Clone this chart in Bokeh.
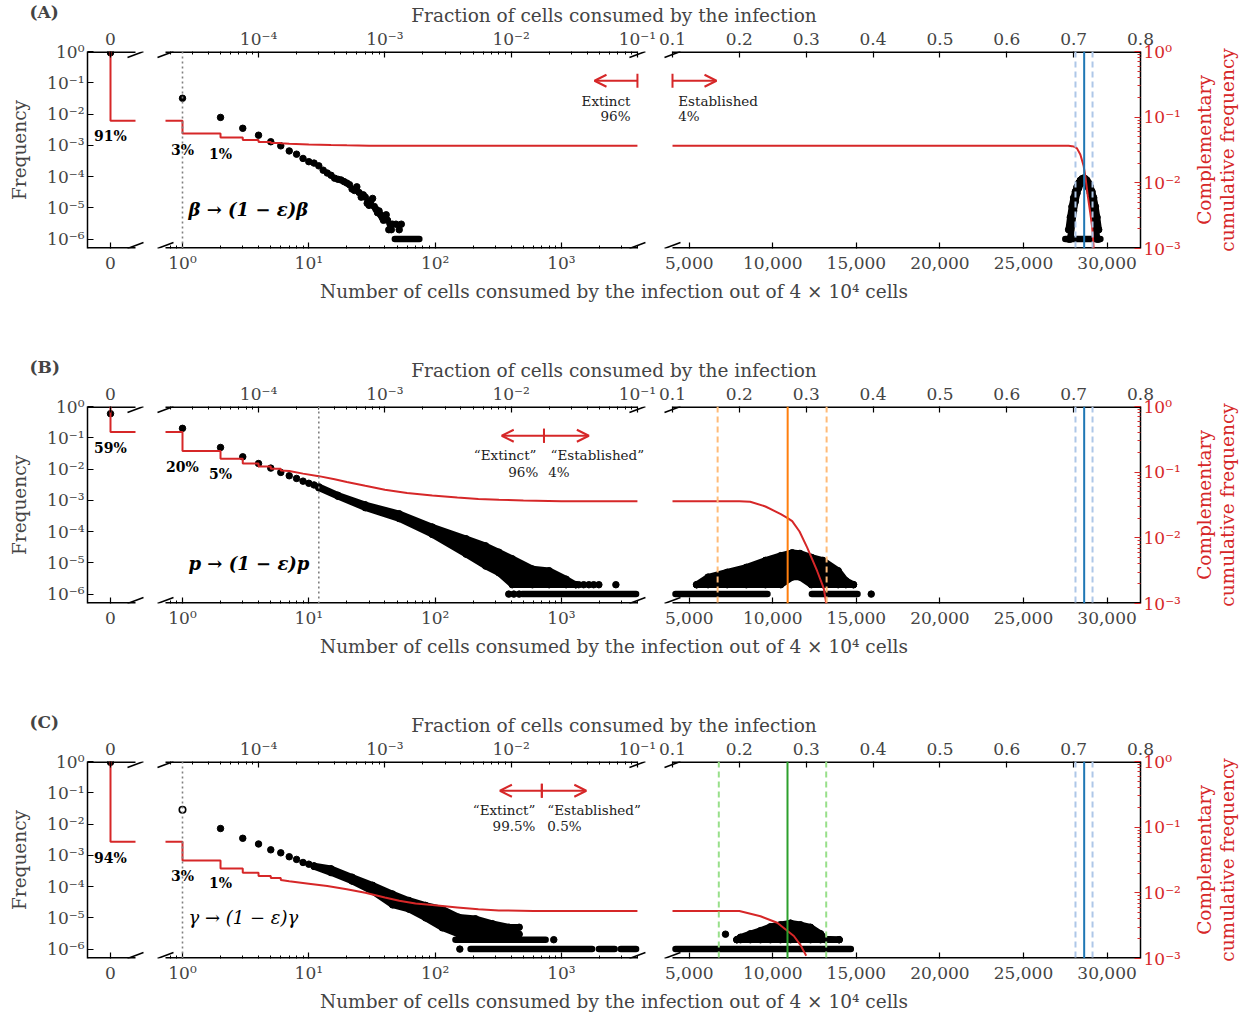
import math
from bokeh.plotting import figure
from bokeh.models import (Range1d, LogScale, LinearAxis, LogAxis, FixedTicker, Title,
                          CustomJSTickFormatter, Span, Label, Arrow, TeeHead, OpenHead)
from bokeh.layouts import column, row
from bokeh.embed import file_html
from bokeh.resources import INLINE

TOTAL_CELLS = 40000
FONT = "DejaVu Serif"
RED = "#d62728"

# ---------------- tick labels ----------------
X_LOG_TICKS = [1, 10, 100, 1000]
X_LOG_LABELS = ["10⁰", "10¹", "10²", "10³"]
X_LIN_TICKS = [5000, 10000, 15000, 20000, 25000, 30000]
X_LIN_LABELS = ["5,000", "10,000", "15,000", "20,000", "25,000", "30,000"]
FRAC_LOG_TICKS = [1e-4, 1e-3, 1e-2, 1e-1]
FRAC_LOG_LABELS = ["10⁻⁴", "10⁻³", "10⁻²", "10⁻¹"]
FRAC_LIN_TICKS = [0.1, 0.2, 0.3, 0.4, 0.5, 0.6, 0.7, 0.8]
FRAC_LIN_LABELS = ["0.1", "0.2", "0.3", "0.4", "0.5", "0.6", "0.7", "0.8"]
FREQ_TICKS = [1, 1e-1, 1e-2, 1e-3, 1e-4, 1e-5, 1e-6]
FREQ_LABELS = ["10⁰", "10⁻¹", "10⁻²", "10⁻³", "10⁻⁴", "10⁻⁵", "10⁻⁶"]
CCDF_TICKS = [1, 1e-1, 1e-2, 1e-3]
CCDF_LABELS = ["10⁰", "10⁻¹", "10⁻²", "10⁻³"]

# ---------------- Row A : beta -> (1 - eps) beta ----------------
A_zero_freq = 0.91
A_zero_ccdf = 0.088
A_log_x = [1, 2, 3, 4, 5, 6, 7, 8, 9, 10, 11, 12, 13, 14, 15, 16, 17, 18, 19, 20,
           21, 22, 23, 24, 25, 26, 27, 28, 29, 30, 31, 32, 33, 34, 35, 36, 37, 38,
           39, 40, 41, 42, 43, 44, 45, 46, 49, 52, 54]
A_log_y = [0.032, 0.0078, 0.0035, 0.0021, 0.0013, 0.00096, 0.00066, 0.00052, 0.00038,
           0.00030, 0.00027, 0.00022, 0.00016, 0.00013, 0.00011, 8.9e-5, 8.2e-5, 7.8e-5,
           6.9e-5, 6.2e-5, 5.5e-5, 4.0e-5, 3.6e-5, 4.7e-5, 3.1e-5, 2.2e-5, 2.6e-5, 2.2e-5,
           1.4e-5, 1.2e-5, 1.7e-5, 2.0e-5, 1.1e-5, 9e-6, 7e-6, 8e-6, 6e-6, 5e-6, 4e-6,
           5e-6, 6e-6, 4e-6, 2e-6, 3e-6, 2e-6, 3e-6, 3e-6, 2e-6, 3e-6]
A_log_run_x0 = [48]
A_log_run_x1 = [75]
A_log_run_y = [1e-6]
A_lin_band_x = [27700, 27800, 27900, 28000, 28100, 28200, 28300, 28400, 28500, 28600,
                28700, 28800, 28900, 29000, 29100, 29200, 29300, 29400, 29500]
A_lin_band_lo = [1e-6, 1e-6, 3e-6, 8e-6, 1.6e-5, 2.9e-5, 4.3e-5, 5.7e-5, 6.7e-5, 7.1e-5,
                 6.7e-5, 5.7e-5, 4.3e-5, 2.9e-5, 1.6e-5, 8e-6, 3e-6, 1e-6, 1e-6]
A_lin_band_hi = [2e-6, 5e-6, 1.1e-5, 2.1e-5, 3.3e-5, 4.7e-5, 6.2e-5, 7.6e-5, 8.5e-5, 9e-5,
                 8.5e-5, 7.6e-5, 6.2e-5, 4.7e-5, 3.3e-5, 2.1e-5, 1.1e-5, 5e-6, 2e-6]
A_lin_run_x0 = [27500]
A_lin_run_x1 = [29600]
A_lin_run_y = [1e-6]
A_ccdf_steps = [0.088, 0.0565, 0.049, 0.045, 0.042, 0.0405, 0.040]
A_ccdf_tail_x = [7, 10, 15, 20, 30, 50, 100, 4000]
A_ccdf_tail_y = [0.0395, 0.0385, 0.0377, 0.0372, 0.0368, 0.0366, 0.0366, 0.0366]
A_ccdf_lin_x = [4000, 27700, 27900, 28050, 28200, 28400, 28600, 28710, 28850, 29000, 29110, 29200]
A_ccdf_lin_y = [0.0366, 0.0366, 0.0362, 0.0355, 0.0335, 0.027, 0.018, 0.012, 0.0062, 0.0034, 0.0021, 0.001]
A_threshold = 1

# ---------------- Row B : p -> (1 - eps) p ----------------
B_zero_freq = 0.59
B_zero_ccdf = 0.41
B_log_x = [1, 2, 3, 4, 5, 6, 7, 8, 9, 10, 11, 383, 420, 463, 1370, 1500, 1650, 1800, 1980, 2700]
B_log_y = [0.20, 0.049, 0.0246, 0.015, 0.0107, 0.0078, 0.0061, 0.005, 0.0041, 0.0035, 0.0031,
           1e-6, 1e-6, 1e-6, 2e-6, 2e-6, 2e-6, 2e-6, 2e-6, 2e-6]
B_log_band_x = [12, 17, 28, 52, 95, 176, 251, 320, 408, 590, 800, 1090, 1300]
B_log_band_lo = [2.5e-3, 1.35e-3, 5.8e-4, 2.6e-4, 8.1e-5, 1.9e-5, 7.9e-6, 4.8e-6, 2e-6, 2e-6, 2e-6, 2e-6, 2e-6]
B_log_band_hi = [2.7e-3, 1.45e-3, 7.2e-4, 3.7e-4, 1.4e-4, 5.9e-5, 3.5e-5, 2.2e-5, 1.35e-5, 6.4e-6, 5.6e-6, 3e-6, 2e-6]
B_log_run_x0 = [490]
B_log_run_x1 = [3900]
B_log_run_y = [1e-6]
B_lin_x = [15890]
B_lin_y = [1e-6]
B_lin_band_x = [5442, 6129, 7274, 8419, 9563, 10479, 11166, 11624, 12311, 12998, 13914, 14371, 14829]
B_lin_band_lo = [2e-6, 2e-6, 2e-6, 2e-6, 2e-6, 2e-6, 3.5e-6, 3.5e-6, 2e-6, 2e-6, 2e-6, 2e-6, 2e-6]
B_lin_band_hi = [2e-6, 3.5e-6, 5e-6, 7.2e-6, 1.2e-5, 1.7e-5, 2.1e-5, 2e-5, 1.5e-5, 1.2e-5, 5.6e-6, 2.7e-6, 2e-6]
B_lin_run_x0 = [4180, 12340]
B_lin_run_x1 = [9680, 15070]
B_lin_run_y = [1e-6, 1e-6]
B_ccdf_steps = [0.41, 0.21, 0.16, 0.136, 0.122, 0.113, 0.106]
B_ccdf_tail_x = [7, 9, 12, 16, 20, 28, 40, 60, 95, 150, 220, 320, 500, 1000, 4000]
B_ccdf_tail_y = [0.104, 0.095, 0.087, 0.078, 0.071, 0.062, 0.054, 0.048, 0.044, 0.041, 0.039, 0.038, 0.037, 0.0362, 0.036]
B_ccdf_lin_x = [4000, 8000, 8650, 9560, 10480, 10890, 11160, 11600, 12060, 12660, 13050, 13200]
B_ccdf_lin_y = [0.036, 0.036, 0.0355, 0.030, 0.023, 0.020, 0.018, 0.0125, 0.0071, 0.0031, 0.0017, 0.001]
B_threshold = 12

# ---------------- Row C : gamma -> (1 - eps) gamma ----------------
C_zero_freq = 0.94
C_zero_ccdf = 0.06
C_log_x = [2, 3, 4, 5, 6, 7, 8, 9, 10, 157, 870]
C_log_y = [0.0072, 0.0035, 0.0023, 0.0015, 0.0012, 0.0009, 0.00074, 0.00059, 0.00052, 1e-6, 2e-6]
C_log_hollow_x = [1]
C_log_hollow_y = [0.0285]
C_log_band_x = [11, 15, 22, 32, 46, 62, 84, 114, 154, 209, 284, 385, 463]
C_log_band_lo = [4.4e-4, 2.8e-4, 1.5e-4, 7.1e-5, 2.6e-5, 1.9e-5, 1.0e-5, 4.8e-6, 3e-6, 2.6e-6, 2.6e-6, 2.5e-6, 3e-6]
C_log_band_hi = [4.6e-4, 3.7e-4, 2.0e-4, 1.1e-4, 5.8e-5, 3.6e-5, 2.5e-5, 1.9e-5, 1.05e-5, 9.3e-6, 6.5e-6, 5e-6, 5e-6]
C_log_run_x0 = [145, 191, 1980, 2950]
C_log_run_x1 = [750, 1750, 2640, 3900]
C_log_run_y = [2e-6, 1e-6, 1e-6, 1e-6]
C_lin_x = [7170]
C_lin_y = [3e-6]
C_lin_band_x = [7850, 8070, 8660, 9265, 9860, 10460, 11060, 11660, 12260, 12860, 13150, 13970]
C_lin_band_lo = [2e-6, 2e-6, 2e-6, 2e-6, 2e-6, 2e-6, 2e-6, 2e-6, 2e-6, 2e-6, 2e-6, 2e-6]
C_lin_band_hi = [2e-6, 2.4e-6, 3.1e-6, 3.9e-6, 5.2e-6, 6e-6, 6.8e-6, 6e-6, 5e-6, 3.1e-6, 2.1e-6, 2e-6]
C_lin_run_x0 = [4180]
C_lin_run_x1 = [14670]
C_lin_run_y = [1e-6]
C_ccdf_steps = [0.06, 0.031, 0.0235, 0.0203, 0.018, 0.0168, 0.0157]
C_ccdf_tail_x = [7, 10, 14, 20, 28, 40, 52, 70, 95, 150, 220, 320, 600, 1500, 4000]
C_ccdf_tail_y = [0.0150, 0.0138, 0.0127, 0.0113, 0.0100, 0.0085, 0.0076, 0.0069, 0.0065, 0.0060, 0.0056, 0.0054, 0.0053, 0.0053, 0.0053]
C_ccdf_lin_x = [4000, 8000, 9265, 10265, 11260, 11660, 12000]
C_ccdf_lin_y = [0.0053, 0.0053, 0.0044, 0.0035, 0.0022, 0.0016, 0.0011]
C_threshold = 1

# ---------------- reference lines (cells) ----------------
BLUE_MEAN = 28630
BLUE_CI = [28110, 29130]
ORANGE_MEAN = 10890
ORANGE_CI = [6700, 13220]
GREEN_MEAN = 10880
GREEN_CI = [6770, 13196]

RIGHT_LABEL_LINES = ["Complementary", "cumulative frequency"]

# ---------------- geometry of the broken axis (pixels in the frame) ----------------
FRAME_W = 1053
FRAME_H = 197
ZERO_AT_PX, ZERO_PX_PER_UNIT, ZERO_END_PX = 23.0, 24.0, 48.0
LOG_ONE_PX, LOG_PX_PER_DEC, LOG_START_PX = 95.0, 126.3, 78.0
LIN_START_PX, LIN_END_PX = 585.0, 1053.0
LIN_START, LIN_END = 0.1 * TOTAL_CELLS, 0.8 * TOTAL_CELLS
LIN_PX_PER_CELL = (LIN_END_PX - LIN_START_PX) / (LIN_END - LIN_START)

ZERO_RANGE = (-ZERO_AT_PX / ZERO_PX_PER_UNIT, (FRAME_W - ZERO_AT_PX) / ZERO_PX_PER_UNIT)
LOG_RANGE = (10 ** (-LOG_ONE_PX / LOG_PX_PER_DEC), 10 ** ((FRAME_W - LOG_ONE_PX) / LOG_PX_PER_DEC))
LIN_RANGE = (LIN_START - LIN_START_PX / LIN_PX_PER_CELL, LIN_END)
ZERO_LIM = (ZERO_RANGE[0], (ZERO_END_PX - ZERO_AT_PX) / ZERO_PX_PER_UNIT)
LOG_LIM = (10 ** ((LOG_START_PX - LOG_ONE_PX) / LOG_PX_PER_DEC), 0.1 * TOTAL_CELLS)
LIN_LIM = (LIN_START, LIN_END)
FREQ_RANGE = (10 ** -6.3, 1.0)
CCDF_RANGE = (1e-3, 1.0)
FREQ_PX_PER_DEC = FRAME_H / 6.3
DOT = 6.5
LEFT_BORDER, RIGHT_BORDER, TOP_BORDER = 87, 51, 51
MAIN_W = LEFT_BORDER + FRAME_W + RIGHT_BORDER
SIDE_W = 57


def px_zero(v):
    return ZERO_AT_PX + v * ZERO_PX_PER_UNIT


def px_log(c):
    return LOG_ONE_PX + LOG_PX_PER_DEC * math.log10(c)


def main_from_px(px):
    return LIN_RANGE[0] + px / LIN_PX_PER_CELL


def shift(xr, x, px):
    if xr == "zero":
        return x + px / ZERO_PX_PER_UNIT
    if xr == "log":
        return x * 10 ** (px / LOG_PX_PER_DEC)
    return x + px / LIN_PX_PER_CELL


def table_formatter(pos, lab):
    return CustomJSTickFormatter(args=dict(pos=list(pos), lab=list(lab)), code="""
        for (let i = 0; i < pos.length; i++) {
            if (Math.abs(pos[i] - tick) <= 1e-7 * Math.max(Math.abs(pos[i]), 1e-300)) { return lab[i]; }
        }
        return "";
    """)


def style_axis(ax):
    ax.major_label_text_font = FONT
    ax.major_label_text_font_size = "17px"
    ax.axis_label_text_font = FONT
    ax.axis_label_text_font_size = "18.5px"
    ax.axis_label_text_font_style = "normal"
    ax.major_tick_in = 6
    ax.major_tick_out = 0
    ax.minor_tick_in = 3
    ax.minor_tick_out = 0
    ax.major_tick_line_width = 1.2
    ax.minor_tick_line_width = 1
    ax.axis_line_width = 1.5
    ax.major_label_standoff = 3
    ax.axis_label_standoff = 0


def lab(p, text, x, y, xr, align="center", size="14px", style="normal", color="black"):
    p.add_layout(Label(x=x, y=y, x_range_name=xr, text=text, text_align=align,
                       text_baseline="middle", text_font=FONT, text_font_size=size,
                       text_font_style=style, text_color=color))


def draw_band(p, xs, lo, hi, xr):
    p.varea(x=xs, y1=lo, y2=hi, x_range_name=xr, fill_color="black")
    p.line(xs, lo, x_range_name=xr, line_width=DOT, line_join="round", line_cap="round", color="black")
    p.line(xs, hi, x_range_name=xr, line_width=DOT, line_join="round", line_cap="round", color="black")
    p.scatter(xs + xs, lo + hi, x_range_name=xr, size=DOT, color="black")


def side_label(height, bottom):
    s = figure(width=SIDE_W, height=height, x_range=Range1d(0, 1), y_range=Range1d(0, 1),
               x_axis_location=None, y_axis_location=None, toolbar_location=None,
               output_backend="svg", min_border_left=0, min_border_right=0,
               min_border_top=TOP_BORDER, min_border_bottom=bottom)
    s.outline_line_color = None
    s.border_fill_color = "white"
    for g in s.grid:
        g.visible = False
    for text in reversed(RIGHT_LABEL_LINES):
        s.add_layout(Title(text=text, align="center", text_color=RED, text_font=FONT,
                           text_font_size="18.5px", text_font_style="normal", standoff=0), "left")
    return s


def build_row(tag, height, bottom, zero_freq, zero_ccdf, log_x, log_y, hollow,
              band_log, runs_log, lin_pts, band_lin, runs_lin,
              ccdf_steps, ccdf_tail, ccdf_lin, threshold, pcts, law, law_style,
              arrows, texts, vlines):
    p = figure(width=MAIN_W, height=height, x_range=Range1d(*LIN_RANGE), y_range=Range1d(*FREQ_RANGE),
               y_axis_type="log", x_axis_location=None, y_axis_location=None,
               toolbar_location=None, output_backend="svg",
               min_border_left=LEFT_BORDER, min_border_right=RIGHT_BORDER, min_border_top=TOP_BORDER,
               min_border_bottom=bottom)
    p.outline_line_color = None
    p.background_fill_color = "white"
    p.border_fill_color = "white"
    for g in p.grid:
        g.visible = False
    p.extra_x_ranges = {"zero": Range1d(*ZERO_RANGE), "log": Range1d(*LOG_RANGE)}
    p.extra_x_scales = {"log": LogScale()}
    p.extra_y_ranges = {"ccdf": Range1d(*CCDF_RANGE)}
    p.extra_y_scales = {"ccdf": LogScale()}

    # panel tag, drawn in the same band as the top axis label
    p.title.text = tag
    p.title.align = "left"
    p.title.vertical_align = "bottom"
    p.title.offset = -58
    p.title.standoff = -40
    p.title.text_font = FONT
    p.title.text_font_size = "17px"
    p.title.text_font_style = "bold"

    # ---- axes ----
    zero_tick = main_from_px(px_zero(0))
    b_pos = [zero_tick] + [main_from_px(px_log(c)) for c in X_LOG_TICKS] + X_LIN_TICKS
    b_lab = ["0"] + X_LOG_LABELS + X_LIN_LABELS
    b_min = [main_from_px(px_log(k * 10 ** e)) for e in range(-1, 4) for k in range(2, 10)
             if LOG_LIM[0] <= k * 10 ** e <= LOG_LIM[1]]
    t_pos = ([zero_tick] + [main_from_px(px_log(f * TOTAL_CELLS)) for f in FRAC_LOG_TICKS]
             + [f * TOTAL_CELLS for f in FRAC_LIN_TICKS])
    t_lab = ["0"] + FRAC_LOG_LABELS + FRAC_LIN_LABELS
    t_min = [main_from_px(px_log(k * 10 ** e * TOTAL_CELLS)) for e in range(-5, -1) for k in range(2, 10)
             if LOG_LIM[0] <= k * 10 ** e * TOTAL_CELLS <= LOG_LIM[1]]

    bax = LinearAxis(ticker=FixedTicker(ticks=b_pos, minor_ticks=b_min),
                     formatter=table_formatter(b_pos, b_lab),
                     axis_label="Number of cells consumed by the infection out of 4 × 10⁴ cells")
    style_axis(bax)
    bax.axis_line_color = None
    bax.major_label_standoff = 4
    bax.axis_label_standoff = 5
    p.add_layout(bax, "below")

    tax = LinearAxis(ticker=FixedTicker(ticks=t_pos, minor_ticks=t_min),
                     formatter=table_formatter(t_pos, t_lab),
                     axis_label="Fraction of cells consumed by the infection")
    style_axis(tax)
    tax.axis_line_color = None
    p.add_layout(tax, "above")

    lax = LogAxis(ticker=FixedTicker(ticks=FREQ_TICKS, minor_ticks=[]),
                  formatter=table_formatter(FREQ_TICKS, FREQ_LABELS), axis_label="Frequency")
    style_axis(lax)
    lax.axis_label_standoff = 14
    p.add_layout(lax, "left")

    c_min = [k * 10 ** e for e in (-3, -2, -1) for k in range(2, 10)]
    rax = LogAxis(y_range_name="ccdf", ticker=FixedTicker(ticks=CCDF_TICKS, minor_ticks=c_min),
                  formatter=table_formatter(CCDF_TICKS, CCDF_LABELS))
    style_axis(rax)
    rax.major_tick_line_color = RED
    rax.minor_tick_line_color = RED
    rax.major_label_text_color = RED
    p.add_layout(rax, "right")

    # ---- spines and break marks (drawn as lines in each panel's own range) ----
    ydf = 10 ** (6 / FREQ_PX_PER_DEC)
    top_y, bot_y = FREQ_RANGE[1], FREQ_RANGE[0]
    for xr, (a, b), bl, br in (("zero", ZERO_LIM, False, True), ("log", LOG_LIM, True, True),
                               ("default", LIN_LIM, True, False)):
        p.segment(x0=[a, a], y0=[top_y, bot_y], x1=[b, b], y1=[top_y, bot_y], x_range_name=xr,
                  color="black", line_width=3)
        for flag, x in ((bl, a), (br, b)):
            if flag:
                x0, x1 = shift(xr, x, -8), shift(xr, x, 8)
                p.segment(x0=[x0, x0], y0=[top_y / ydf, bot_y], x1=[x1, x1], y1=[top_y, bot_y * ydf],
                          x_range_name=xr, color="black", line_width=1.6)

    # ---- threshold line ----
    p.add_layout(Span(location=threshold, dimension="height", x_range_name="log",
                      line_color="#808080", line_dash="2 3", line_width=1.6))

    # ---- zero panel ----
    p.scatter([0], [zero_freq], x_range_name="zero", size=DOT, color="black")
    p.line([0, 0, ZERO_LIM[1]], [CCDF_RANGE[1], zero_ccdf, zero_ccdf], x_range_name="zero",
           y_range_name="ccdf", color=RED, line_width=2)

    # ---- log panel ----
    if band_log is not None:
        draw_band(p, *band_log, "log")
    rx0, rx1, ry = runs_log
    p.segment(x0=rx0, y0=ry, x1=rx1, y1=ry, x_range_name="log", line_width=DOT,
              line_cap="round", color="black")
    p.scatter(log_x, log_y, x_range_name="log", size=DOT, color="black")
    if hollow is not None:
        p.scatter(hollow[0], hollow[1], x_range_name="log", size=DOT, fill_color="white",
                  line_color="black", line_width=1.6)

    xs = [LOG_LIM[0]]
    ys = [ccdf_steps[0]]
    for k in range(1, len(ccdf_steps)):
        xs += [k, k]
        ys += [ccdf_steps[k - 1], ccdf_steps[k]]
    xs += list(ccdf_tail[0])
    ys += list(ccdf_tail[1])
    p.line(xs, ys, x_range_name="log", y_range_name="ccdf", color=RED, line_width=2)

    # ---- linear panel ----
    draw_band(p, *band_lin, "default")
    rx0, rx1, ry = runs_lin
    p.segment(x0=rx0, y0=ry, x1=rx1, y1=ry, line_width=DOT, line_cap="round", color="black")
    if lin_pts is not None:
        p.scatter(lin_pts[0], lin_pts[1], size=DOT, color="black")
    p.line(ccdf_lin[0], ccdf_lin[1], y_range_name="ccdf", color=RED, line_width=2)

    for loc, col, dash in vlines:
        p.add_layout(Span(location=loc, dimension="height", line_color=col,
                          line_dash=dash, line_width=2))

    # ---- extinct / established arrows ----
    ya = 0.116
    for xr, x0, x1 in arrows:
        p.add_layout(Arrow(start=TeeHead(size=14, line_color=RED, line_width=2),
                           end=OpenHead(size=12, line_color=RED, line_width=2),
                           x_start=x0, y_start=ya, x_end=x1, y_end=ya, x_range_name=xr,
                           line_color=RED, line_width=2))
    for text, xr, x, y, align in texts:
        lab(p, text, x, y, xr, align=align, size="13.5px", color="#222222")

    # ---- labels ----
    for text, xr, x, y in pcts:
        lab(p, text, x, y, xr, size="14px", style="bold")
    lab(p, law[0], 1.116, law[1], "log", align="left", size="18px", style=law_style)
    return row(p, side_label(height, bottom), spacing=0)


pA = build_row("(A)", 355, 107, A_zero_freq, A_zero_ccdf, A_log_x, A_log_y, None,
               None, (A_log_run_x0, A_log_run_x1, A_log_run_y), None,
               (A_lin_band_x, A_lin_band_lo, A_lin_band_hi), (A_lin_run_x0, A_lin_run_x1, A_lin_run_y),
               A_ccdf_steps, (A_ccdf_tail_x, A_ccdf_tail_y), (A_ccdf_lin_x, A_ccdf_lin_y), A_threshold,
               [("91%", "zero", 0, 0.0020), ("3%", "log", 1, 7.2e-4), ("1%", "log", 2, 5.2e-4)],
               ("β → (1 − ε)β", 8.7e-6), "bold italic",
               [("log", 4000, 1828), ("default", 4000, 6633)],
               [("Extinct", "log", 3524, 0.0265, "right"), ("96%", "log", 3524, 0.0087, "right"),
                ("Established", "default", 4341, 0.0265, "left"), ("4%", "default", 4341, 0.0087, "left")],
               [(BLUE_MEAN, "#1f77b4", "solid"), (BLUE_CI[0], "#aec7e8", "6 4"), (BLUE_CI[1], "#aec7e8", "6 4")])

pB = build_row("(B)", 355, 107, B_zero_freq, B_zero_ccdf, B_log_x, B_log_y, None,
               (B_log_band_x, B_log_band_lo, B_log_band_hi), (B_log_run_x0, B_log_run_x1, B_log_run_y),
               (B_lin_x, B_lin_y),
               (B_lin_band_x, B_lin_band_lo, B_lin_band_hi), (B_lin_run_x0, B_lin_run_x1, B_lin_run_y),
               B_ccdf_steps, (B_ccdf_tail_x, B_ccdf_tail_y), (B_ccdf_lin_x, B_ccdf_lin_y), B_threshold,
               [("59%", "zero", 0, 0.047), ("20%", "log", 1, 0.0118), ("5%", "log", 2, 0.0072)],
               ("p → (1 − ε)p", 9.3e-6), "bold italic",
               [("log", 728, 337), ("log", 728, 1650)],
               [("“Extinct”", "log", 635, 0.0282, "right"), ("96%", "log", 656, 0.0081, "right"),
                ("“Established”", "log", 820, 0.0282, "left"), ("4%", "log", 787, 0.0081, "left")],
               [(ORANGE_MEAN, "#ff7f0e", "solid"), (ORANGE_CI[0], "#ffbb78", "6 4"), (ORANGE_CI[1], "#ffbb78", "6 4"),
                (BLUE_MEAN, "#1f77b4", "solid"), (BLUE_CI[0], "#aec7e8", "6 4"), (BLUE_CI[1], "#aec7e8", "6 4")])

pC = build_row("(C)", 306, 58, C_zero_freq, C_zero_ccdf, C_log_x, C_log_y, (C_log_hollow_x, C_log_hollow_y),
               (C_log_band_x, C_log_band_lo, C_log_band_hi), (C_log_run_x0, C_log_run_x1, C_log_run_y),
               (C_lin_x, C_lin_y),
               (C_lin_band_x, C_lin_band_lo, C_lin_band_hi), (C_lin_run_x0, C_lin_run_x1, C_lin_run_y),
               C_ccdf_steps, (C_ccdf_tail_x, C_ccdf_tail_y), (C_ccdf_lin_x, C_ccdf_lin_y), C_threshold,
               [("94%", "zero", 0, 8.5e-4), ("3%", "log", 1, 2.2e-4), ("1%", "log", 2, 1.26e-4)],
               ("γ → (1 − ε)γ", 1e-5), "italic",
               [("log", 700, 326), ("log", 700, 1575)],
               [("“Extinct”", "log", 623, 0.0282, "right"), ("99.5%", "log", 623, 0.0087, "right"),
                ("“Established”", "log", 773, 0.0282, "left"), ("0.5%", "log", 773, 0.0087, "left")],
               [(GREEN_MEAN, "#2ca02c", "solid"), (GREEN_CI[0], "#98df8a", "6 4"), (GREEN_CI[1], "#98df8a", "6 4"),
                (BLUE_MEAN, "#1f77b4", "solid"), (BLUE_CI[0], "#aec7e8", "6 4"), (BLUE_CI[1], "#aec7e8", "6 4")])

layout = column(pA, pB, pC, spacing=0)
open("out.html", "w").write(file_html(layout, INLINE, title="Infection size distributions"))
